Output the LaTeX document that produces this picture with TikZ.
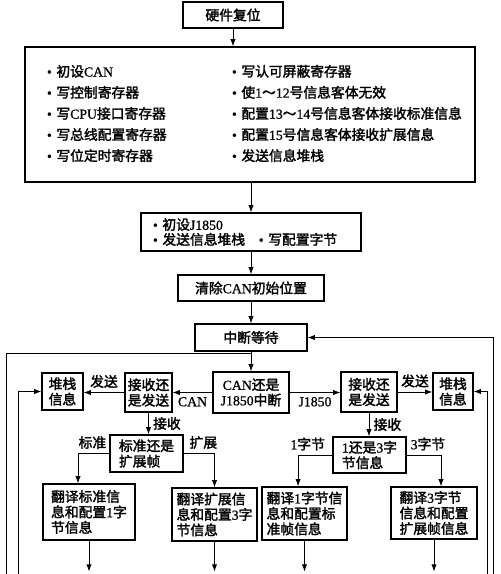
\documentclass[tikz,border=0pt]{standalone}
\usepackage{fontspec}
\setmainfont{Noto Sans CJK SC}[FakeBold=2]
\newfontfamily\latin{Liberation Serif}[FakeBold=1]
\usetikzlibrary{arrows.meta}
\newcommand{\en}[1]{{\latin #1}}

\begin{document}
\begin{tikzpicture}[
  font=\fontsize{9.8}{11}\selectfont,
  fleche/.style={-{Latex[length=1.8mm, width=1.3mm]}, line width=0.6pt},
  ligne/.style={line width=0.6pt},
  boite/.style={draw, line width=0.8pt, align=center, inner sep=1pt},
  lab/.style={inner sep=3pt}
]
\useasboundingbox (0,0) rectangle (12.5,14.35);

% --- Initialisation ---
\node[boite, minimum width=2.5cm, minimum height=0.65cm] (reset) at (5.825,13.975) {硬件复位};
\node[boite, minimum width=11.25cm, minimum height=3.375cm, align=left,
  text width=10.15cm, inner xsep=0.55cm, font=\fontsize{9.8}{15}\selectfont] (init) at (6.25,11.4875)
  {\begin{tabular}{@{}p{4.625cm}@{}l@{}}
    \en{•} 初设\en{CAN} & \en{•} 写认可屏蔽寄存器\\
    \en{•} 写控制寄存器 & \en{•} 使\en{1}～\en{12}号信息客体无效\\
    \en{•} 写\en{CPU}接口寄存器 & \en{•} 配置\en{13}～\en{14}号信息客体接收标准信息\\
    \en{•} 写总线配置寄存器 & \en{•} 配置\en{15}号信息客体接收扩展信息\\
    \en{•} 写位定时寄存器 & \en{•} 发送信息堆栈
  \end{tabular}};
\node[boite, minimum width=5.5cm, minimum height=0.95cm, align=left, text width=4.9cm,
  inner xsep=0.3cm, font=\fontsize{9.8}{10.6}\selectfont] (j1850) at (6.275,8.55)
  {\en{•} 初设\en{J1850}\\\en{•} 发送信息堆栈\quad\en{•} 写配置字节};
\node[boite, minimum width=3.65cm, minimum height=0.65cm] (clear) at (6.275,7.15) {清除\en{CAN}初始位置};
\node[boite, minimum width=2.8cm, minimum height=0.675cm] (wait) at (6.275,5.9125) {中断等待};

% --- Choix CAN / J1850 ---
\node[boite, minimum width=1.9cm, minimum height=1.025cm] (sel) at (6.275,4.5375) {\en{CAN}还是\\\en{J1850}中断};
\node[boite, minimum width=1.175cm, minimum height=0.975cm] (rxl) at (3.7125,4.5375) {接收还\\是发送};
\node[boite, minimum width=1.025cm, minimum height=0.925cm] (stkl) at (1.5625,4.5625) {堆栈\\信息};
\node[boite, minimum width=1.4cm, minimum height=1.0cm] (rxr) at (9.225,4.55) {接收还\\是发送};
\node[boite, minimum width=1.0cm, minimum height=0.925cm] (stkr) at (11.325,4.5625) {堆栈\\信息};
\node[boite, minimum width=1.825cm, minimum height=0.925cm, align=left] (fmt) at (3.6625,3.0125) {标准还是\\扩展帧};
\node[boite, minimum width=1.825cm, minimum height=0.9cm, align=left] (len) at (9.2375,2.975) {\en{1}还是\en{3}字\\节信息};

% --- Traduction ---
\node[boite, minimum width=2.3cm, minimum height=1.4cm, align=left] (trstd) at (2.225,1.55) {翻译标准信\\息和配置\en{1}字\\节信息};
\node[boite, minimum width=2.125cm, minimum height=1.325cm, align=left] (trext) at (5.3625,1.4875) {翻译扩展信\\息和配置\en{3}字\\节信息};
\node[boite, minimum width=2.125cm, minimum height=1.325cm, align=left] (tra) at (7.6125,1.5125) {翻译\en{1}字节信\\息和配置标\\准帧信息};
\node[boite, minimum width=2.15cm, minimum height=1.3cm, align=left] (trb) at (10.85,1.525) {翻译\en{3}字节\\信息和配置\\扩展帧信息};

% Flèches principales
\draw[fleche] (reset) -- (reset |- init.north);
\draw[fleche] (init.south -| j1850.north) -- (j1850.north);
\draw[fleche] (j1850) -- (clear);
\draw[fleche] (clear) -- (wait);
\draw[fleche] (wait) -- (sel);

\draw[fleche] (sel) -- node[lab, below] (lcan) {\en{CAN}} (rxl);
\draw[fleche] (rxl.west) -- node[lab, above] (lsendl) {发送} (stkl.east |- rxl.west);
\draw[fleche] (sel.east) -- node[lab, below] (ljx) {\en{J1850}} (sel.east -| rxr.west);
\draw[fleche] (rxr.east) -- node[lab, above] (lsendr) {发送} (rxr.east -| stkr.west);
\draw[fleche] (rxl) -- node[lab, right] (lrxl) {接收} (rxl |- fmt.north);
\draw[fleche] (rxr) -- node[lab, right] (lrxr) {接收} (rxr |- len.north);

\draw[fleche] (fmt.west) -| node[lab, above, pos=0.27] (lstd) {标准} ([xshift=-0.275cm]trstd.north);
\draw[fleche] (fmt.east) -| node[lab, above, pos=0.32] (lext) {扩展} (trext.north);
\draw[fleche] (len.west) -| node[lab, above, pos=0.36] (lone) {\en{1}字节} ([xshift=-0.16cm]tra.north);
\draw[fleche] (len.east) -| node[lab, above, pos=0.31] (lthree) {\en{3}字节} ([xshift=0.175cm]trb.north);

% Vers le bas (coupé)
\coordinate (bas) at (0,0.06);
\foreach \n in {trstd,trext,tra,trb}
  \draw[fleche] (\n) -- (\n |- bas);

% Boucles de retour
\coordinate (lo) at (0.15,0);
\coordinate (li) at (0.45,0);
\coordinate (ri) at (12.175,0);
\coordinate (ro) at (12.325,0);
\coordinate (jct) at (6.275,5.52);
\draw[ligne] (lo) |- (jct);
\draw[fleche] (li) |- (stkl.west);
\draw[fleche] (ro) |- (wait.east);
\draw[fleche] (ri) |- (stkr.east);

\end{tikzpicture}
\end{document}
